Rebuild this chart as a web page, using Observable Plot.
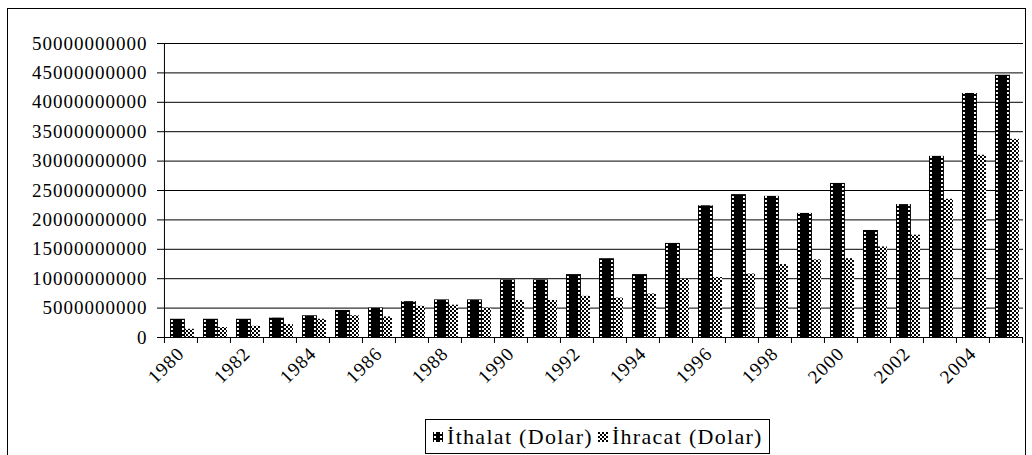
<!DOCTYPE html>
<html><head><meta charset="utf-8">
<script src="https://cdn.jsdelivr.net/npm/d3@7"></script>
<script src="https://cdn.jsdelivr.net/npm/@observablehq/plot@0.6"></script>
<style>
body{margin:0;background:#fff;width:1032px;height:455px;overflow:hidden;position:relative;font-family:"Liberation Serif","Times New Roman",serif;}
#chart{position:absolute;left:0;top:0;}
#frame{position:absolute;left:7px;top:8px;width:1017px;height:470px;border:1px solid #000;pointer-events:none;}
#legend{position:absolute;left:425px;top:419px;width:336px;height:33px;padding-left:7px;border:1px solid #000;display:flex;align-items:center;justify-content:flex-start;font-size:22px;letter-spacing:1.3px;background:#fff;white-space:nowrap;}
#legend svg{margin:0 4px 0 0;flex:none;}
#legend span{margin-right:5px;}
</style></head><body>
<svg width="0" height="0" style="position:absolute"><defs>
<pattern id="dots" patternUnits="userSpaceOnUse" width="2" height="4"><rect width="2" height="2" fill="#fff"/></pattern>
<pattern id="checker" patternUnits="userSpaceOnUse" width="4" height="4"><rect width="4" height="4" fill="#fff"/><rect width="2" height="2" fill="#000"/><rect x="2" y="2" width="2" height="2" fill="#000"/></pattern>
</defs></svg>
<div id="chart"></div>
<div id="legend"></div>
<div id="frame"></div>
<script>
const years = [1980,1981,1982,1983,1984,1985,1986,1987,1988,1989,1990,1991,1992,1993,1994,1995,1996,1997,1998,1999,2000,2001,2002,2003,2004,2005];
const ithalat = [3.1e9,3.1e9,3.1e9,3.3e9,3.7e9,4.6e9,5.0e9,6.1e9,6.4e9,6.4e9,9.8e9,9.8e9,10.7e9,13.4e9,10.7e9,16.0e9,22.4e9,24.3e9,24.0e9,21.1e9,26.2e9,18.2e9,22.6e9,30.8e9,41.5e9,44.6e9];
const ihracat = [1.4e9,1.7e9,1.9e9,2.2e9,3.1e9,3.7e9,3.5e9,5.3e9,5.5e9,5.0e9,6.3e9,6.3e9,7.0e9,6.7e9,7.4e9,9.9e9,10.2e9,10.8e9,12.4e9,13.2e9,13.4e9,15.4e9,17.4e9,23.5e9,31.0e9,33.7e9];
const yTicks = [0,5000000000,10000000000,15000000000,20000000000,25000000000,30000000000,35000000000,40000000000,45000000000,50000000000];
const xLabels = [1980,1982,1984,1986,1988,1990,1992,1994,1996,1998,2000,2002,2004];
const seriesNames = ["İthalat (Dolar)","İhracat (Dolar)"];

const data = years.map((y,i)=>({year:y, imp:ithalat[i], exp:ihracat[i]}));
const W=1032, H=419, ML=163, MR=9, MT=43, MB=82;
const bw = (W-ML-MR)/years.length;

const plot = Plot.plot({
  width:W, height:H, marginLeft:ML, marginRight:MR, marginTop:MT, marginBottom:MB,
  style:{fontFamily:'"Liberation Serif", "Times New Roman", serif', fontSize:"19px", background:"transparent", color:"#000", letterSpacing:"1px"},
  x:{type:"band", domain:years, padding:0, axis:null},
  y:{domain:[0,50000000000], axis:null},
  marks:[
    Plot.ruleY(yTicks, {stroke:"#000", strokeWidth:1}),
    Plot.barY(data, {x:"year", y:"exp", fill:"url(#checker)", insetLeft:21, insetRight:bw-30}),
    Plot.barY(data, {x:"year", y:"imp", fill:"#000", insetLeft:6, insetRight:bw-21}),
    Plot.barY(data, {x:"year", y:"imp", fill:"url(#dots)", insetLeft:7, insetRight:bw-9}),
    Plot.barY(data, {x:"year", y:"imp", fill:"url(#dots)", insetLeft:18, insetRight:bw-20}),
    Plot.axisY({ticks:yTicks, tickSize:6, tickPadding:10, tickFormat:d3.format("d"), label:null, stroke:"#000"}),
    Plot.ruleX([years[0]], {y1:0, y2:50000000000, dx:-bw/2, stroke:"#000"}),
    Plot.ruleX(years, {x:d=>d, y1:0, y2:0, dx:-bw/2, insetTop:6, stroke:"#000"}),
    Plot.ruleX([years[years.length-1]], {y1:0, y2:0, dx:bw/2, insetTop:6, stroke:"#000"}),
    Plot.text(xLabels, {x:d=>d, y:0, text:d=>String(d), dy:13, rotate:-45, textAnchor:"end", lineAnchor:"middle", fill:"#000"})
  ]
});
document.getElementById("chart").appendChild(plot);

const legend = document.getElementById("legend");
seriesNames.forEach((name,i)=>{
  const s = document.createElementNS("http://www.w3.org/2000/svg","svg");
  s.setAttribute("width","10"); s.setAttribute("height","10");
  s.innerHTML = i===0
    ? '<rect width="10" height="10" fill="#000"/><rect x="1" width="2" height="10" fill="url(#dots)"/><rect x="7" width="2" height="10" fill="url(#dots)"/>'
    : '<rect width="10" height="10" fill="url(#checker)"/>';
  legend.appendChild(s);
  const t = document.createElement("span"); t.textContent = name; legend.appendChild(t);
});
</script>
</body></html>
